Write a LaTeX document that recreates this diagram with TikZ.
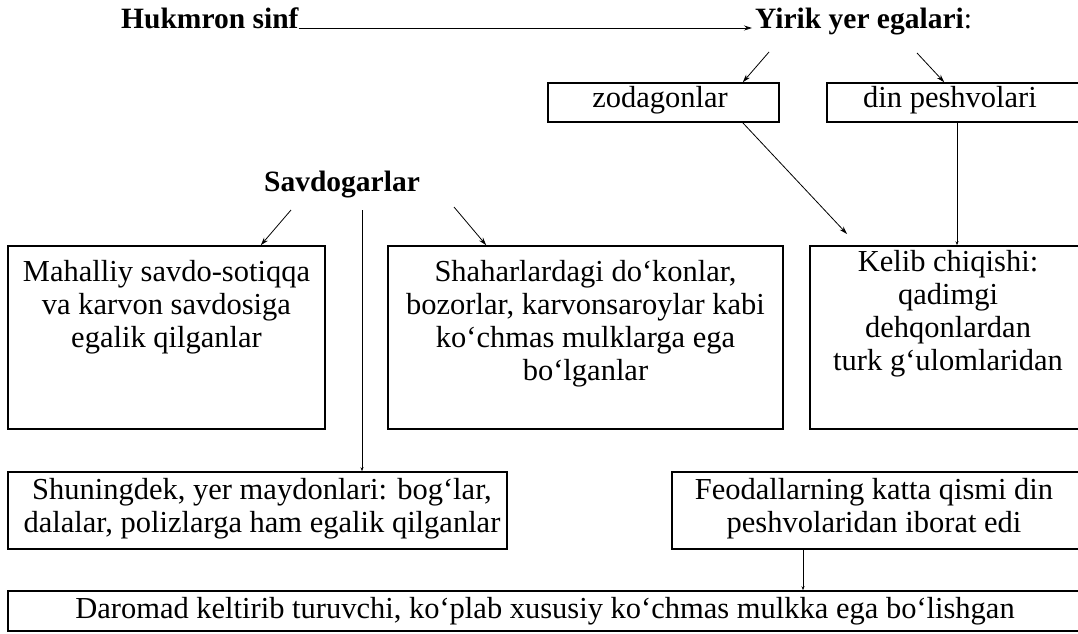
\documentclass[tikz,border=0pt]{standalone}
\usepackage{fontspec}
\setmainfont{Liberation Serif}
\usetikzlibrary{positioning,arrows.meta}

\tikzset{
  box/.style={draw,line width=1.6pt,inner sep=0pt},
  txt/.style={align=center,inner sep=0pt,font=\fontsize{30.5}{33}\selectfont},
  head/.style={inner sep=0pt,font=\fontsize{29.5}{33}\selectfont\bfseries},
  arr/.style={-{Stealth[length=8pt,width=5pt]},line width=0.8pt},
  tick/.style={-{Stealth[length=4pt,width=3pt]},line width=0.7pt}
}

\begin{document}
\begin{tikzpicture}[x=1pt,y=-1pt]
\useasboundingbox (0,0) rectangle (1078,633);
\clip (0,0) rectangle (1078,633);

% titles
\node[head,anchor=base west] (hukm) at (121,28) {Hukmron sinf};
\node[head,anchor=base west] (yirik) at (755,28) {Yirik yer egalari\textmd{:}};
\node[head] (savdo) at (342,185) {Savdogarlar};

% boxes
\node[box,minimum width=231pt,minimum height=39pt] (zod) at (663.5,102.5) {};
\node[box,minimum width=255pt,minimum height=39pt] (din) at (954.5,102.5) {};
\node[box,minimum width=317pt,minimum height=183pt] (mah) at (166.5,337.5) {};
\node[box,minimum width=395pt,minimum height=183pt] (shah) at (585.5,337.5) {};
\node[box,minimum width=272pt,minimum height=183pt] (kel) at (946,337.5) {};
\node[box,minimum width=499pt,minimum height=77pt] (shun) at (257.5,510.5) {};
\node[box,minimum width=410pt,minimum height=77pt] (feod) at (877,510.5) {};
\node[box,minimum width=1074pt,minimum height=40pt] (daro) at (545,611) {};

% texts
\node[txt] (zodtx) at (660,100) {zodagonlar};
\node[txt] (dintx) at (950,100) {din peshvolari};
\node[txt,anchor=north] (mahtx) at (166.5,260) {Mahalliy savdo-sotiqqa\\va karvon savdosiga\\egalik qilganlar};
\node[txt,anchor=north] (shahtx) at (585.5,260) {Shaharlardagi do‘konlar,\\bozorlar, karvonsaroylar kabi\\ko‘chmas mulklarga ega\\bo‘lganlar};
\node[txt,anchor=north] (keltx) at (948,250) {Kelib chiqishi:\\qadimgi\\dehqonlardan\\turk g‘ulomlaridan};
\node[txt] (shuntx) at (262,509) {Shuningdek, yer maydonlari: bog‘lar,\\dalalar, polizlarga ham egalik qilganlar};
\node[txt] (feodtx) at (874,509) {Feodallarning katta qismi din\\peshvolaridan iborat edi};
\node[txt] (darotx) at (545,611) {Daromad keltirib turuvchi, ko‘plab xususiy ko‘chmas mulkka ega bo‘lishgan};

% arrows
\coordinate (y1) at (769,52);
\coordinate (y2) at (917,53);
\coordinate (s1) at (291,210);
\coordinate (s2) at (454,207);
\coordinate (s3) at (362,210);
\coordinate (k1) at (847,234);
\draw[arr,shorten >=3pt] (hukm.base east) -- (yirik.base west);
\draw[arr] (y1) -- ([xshift=-37pt]zod.north east);
\draw[arr] (y2) -- ([xshift=118pt]din.north west);
\draw[arr] (s1) -- ([xshift=-65pt]mah.north east);
\draw[arr] (s2) -- ([xshift=99pt]shah.north west);
\draw[tick] (s3) -- (s3 |- shun.north);
\draw[arr] ([xshift=-37pt]zod.south east) -- (k1);
\draw[tick] ([xshift=2.5pt]din.south) -- ([xshift=11pt]kel.north);
\draw[tick] ([xshift=-74pt]feod.south) -- ([xshift=258pt]daro.north);
\end{tikzpicture}
\end{document}
